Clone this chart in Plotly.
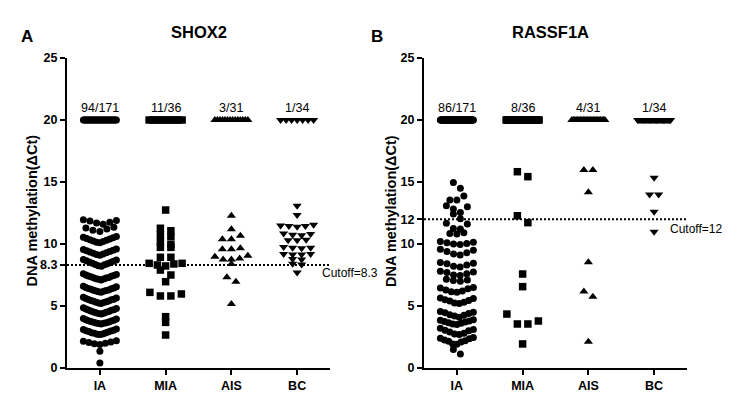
import plotly.graph_objects as go

W, H = 744, 415

groups = ["IA", "MIA", "AIS", "BC"]

# ---------------- SHOX2 (panel A) ----------------
shox2_IA = [
    11.95, 11.9, 11.85, 11.75, 11.7, 11.6,
    11.35, 11.3, 11.2, 11.1, 11.0,
    10.6, 10.55, 10.5, 10.45, 10.4, 10.35, 10.3, 10.25, 10.2, 10.15, 10.1,
    9.6, 9.55, 9.5, 9.45, 9.4, 9.35, 9.3, 9.25, 9.2, 9.15, 9.1,
    8.75, 8.7, 8.65, 8.6, 8.55, 8.5, 8.45, 8.4, 8.35, 8.32, 8.25, 8.2,
    7.6, 7.55, 7.5, 7.45, 7.42, 7.4, 7.35, 7.3, 7.28, 7.25, 7.2, 7.18, 7.15, 7.1,
    6.6, 6.55, 6.5, 6.45, 6.42, 6.4, 6.35, 6.3, 6.28, 6.25, 6.2, 6.18, 6.15, 6.1,
    5.7, 5.65, 5.6, 5.55, 5.52, 5.5, 5.45, 5.4, 5.38, 5.35, 5.3, 5.28, 5.25, 5.2,
    4.85, 4.8, 4.75, 4.7, 4.68, 4.65, 4.6, 4.55, 4.52, 4.5, 4.45, 4.42, 4.4, 4.35,
    4.0, 3.95, 3.9, 3.85, 3.82, 3.8, 3.75, 3.7, 3.68, 3.65, 3.62, 3.6, 3.58, 3.55,
    3.15, 3.1, 3.05, 3.0, 2.98, 2.95, 2.9, 2.85, 2.82, 2.8, 2.75, 2.72, 2.7,
    2.2, 2.15, 2.1, 2.05, 2.0, 1.95, 1.9,
    1.35, 0.4,
]
shox2_MIA = [12.74, 11.27, 11.07, 10.73, 10.59, 10.19, 9.97, 9.73, 9.73,
             8.93, 8.93, 8.44, 8.31, 8.44, 8.23, 8.39, 7.90, 7.50, 6.96,
             5.97, 5.81, 5.81, 6.10, 4.14, 3.68, 2.66]
shox2_AIS = [12.28, 11.18, 10.38, 10.38, 10.67, 9.57, 9.57, 9.65, 9.06,
             8.76, 8.84, 8.76, 8.98, 8.39, 7.31, 6.96, 5.16]
shox2_BC = [13.09, 12.34, 11.55, 11.5, 11.45, 11.45, 11.4, 10.85, 10.8, 10.75,
            10.7, 10.35, 10.3, 10.3, 9.75, 9.7, 9.7, 9.65, 9.2, 9.2, 9.15, 9.15,
            8.8, 8.75, 8.4, 8.35, 7.71]
shox2_at20 = [34, 10, 14, 7]          # samples plotted at ΔCt = 20 (undetected)
shox2_labels = ["94/171", "11/36", "3/31", "1/34"]
shox2_cutoff = 8.3

# ---------------- RASSF1A (panel B) ----------------
rassf_IA = [
    14.95, 14.49, 13.87, 13.55, 13.55, 13.09, 13.0, 12.82, 12.55, 12.42, 12.04,
    11.67, 11.62, 11.25, 11.2,
    10.9, 10.85, 10.8,
    10.2, 10.15, 10.1, 10.05, 10.0, 9.95,
    9.57, 9.5, 9.4, 9.3, 9.2, 9.11,
    8.5, 8.45, 8.4, 8.3, 8.2, 8.15,
    7.8, 7.75, 7.7, 7.6, 7.5, 7.45,
    7.15, 7.1, 7.05, 7.0,
    6.5, 6.45, 6.4, 6.3, 6.2, 6.15, 6.1,
    5.65, 5.6, 5.5, 5.45, 5.4, 5.3, 5.25, 5.2,
    4.55, 4.5, 4.45, 4.4, 4.3, 4.25, 4.2, 4.1,
    3.9, 3.85, 3.8, 3.75, 3.7, 3.65, 3.6, 3.55, 3.5,
    3.2, 3.1, 3.05, 3.0, 2.9, 2.8, 2.75, 2.7,
    2.45, 2.4, 2.35, 2.25, 2.2, 2.15, 2.1,
    1.94, 1.91, 1.5,
    1.13,
]
rassf_MIA = [15.83, 15.43, 12.28, 11.72, 7.58, 6.56, 4.35, 3.55, 3.55, 3.79, 1.94]
rassf_AIS = [15.97, 15.97, 14.17, 8.52, 6.16, 5.75, 2.12]
rassf_BC = [15.35, 14.0, 14.0, 12.61, 10.99]
rassf_at20 = [74, 25, 24, 29]
rassf_labels = ["86/171", "8/36", "4/31", "1/34"]
rassf_cutoff = 12

# ---------------- layout geometry (pixels) ----------------
PLOT_TOP, PLOT_BOTTOM = 58, 368
PANELS = [
    dict(left=67, right=330),
    dict(left=424, right=687),
]
FONT = "Liberation Sans, Arial, Helvetica, sans-serif"

symbols = ["circle", "square", "triangle-up", "triangle-down"]
msizes = [7, 7.5, 8, 8]
steps_px = [7, 10.5, 9, 9]
MAX_SPAN = 33


def swarm_offsets(values, bin_units, step_px, max_px, ppu):
    order = sorted(range(len(values)), key=lambda i: -values[i])
    rows, cur, top = [], [], None
    for i in order:
        v = values[i]
        if cur and (top - v) < bin_units:
            cur.append(i)
        else:
            if cur:
                rows.append(cur)
            cur, top = [i], v
    if cur:
        rows.append(cur)
    offs = [0.0] * len(values)
    for row in rows:
        row = sorted(row, key=lambda i: values[i])
        n = len(row)
        step = step_px if n == 1 else min(step_px, max_px / (n - 1))
        if n % 2 == 1:
            slots = [0]
            k = 1
            while len(slots) < n:
                slots += [-k, k]
                k += 1
        else:
            slots = []
            k = 0.5
            while len(slots) < n:
                slots += [k, -k]
                k += 1
        for i, s in zip(row, slots[:n]):
            offs[i] = s * step / ppu
    return offs


fig = go.Figure()

panel_data = [
    dict(vals=[shox2_IA, shox2_MIA, shox2_AIS, shox2_BC], at20=shox2_at20,
         labels=shox2_labels, cutoff=shox2_cutoff, bins=[0.56, 0.45, 0.45, 0.35],
         ticks=[0, 5, 8.3, 10, 15, 20, 25], ticktext=["0", "5", "8.3", "10", "15", "20", "25"]),
    dict(vals=[rassf_IA, rassf_MIA, rassf_AIS, rassf_BC], at20=rassf_at20,
         labels=rassf_labels, cutoff=rassf_cutoff, bins=[0.56, 0.9, 0.45, 0.45],
         ticks=[0, 5, 10, 12, 15, 20, 25], ticktext=["0", "5", "10", "12", "15", "20", "25"]),
]

for p, (geo, pdata) in enumerate(zip(PANELS, panel_data)):
    xa = "x" if p == 0 else "x2"
    ya = "y" if p == 0 else "y2"
    ppu = (geo["right"] - geo["left"]) / 4.0
    for g in range(4):
        below = pdata["vals"][g]
        top_vals = [20.0] * pdata["at20"][g]
        o1 = swarm_offsets(below, pdata["bins"][g], steps_px[g], MAX_SPAN, ppu)
        o2 = swarm_offsets(top_vals, 0.1, steps_px[g], MAX_SPAN, ppu)
        xs = [g + o for o in o1] + [g + o for o in o2]
        ys = list(below) + top_vals
        fig.add_trace(go.Scatter(
            x=xs, y=ys, mode="markers", xaxis=xa, yaxis=ya,
            marker=dict(symbol=symbols[g], size=msizes[g], color="black",
                        line=dict(width=0)),
            showlegend=False, hoverinfo="skip", cliponaxis=False,
        ))
        fig.add_annotation(
            x=g, y=20, xref=xa, yref=ya, text=pdata["labels"][g],
            showarrow=False, yanchor="bottom", yshift=3,
            font=dict(family=FONT, size=12.5, color="black"),
        )
    fig.add_shape(type="line", xref=xa, yref=ya, x0=-0.5, x1=3.5,
                  y0=pdata["cutoff"], y1=pdata["cutoff"], layer="below",
                  line=dict(color="black", width=2, dash="2px,2px"))

axis_common = dict(showline=True, linewidth=2, linecolor="black", ticks="outside",
                   ticklen=5, tickwidth=2, tickcolor="black", showgrid=False,
                   zeroline=False, tickfont=dict(family=FONT, size=12.5, color="black", weight="bold"))

ydom = [(H - PLOT_BOTTOM) / H, (H - PLOT_TOP) / H]
for p, geo in enumerate(PANELS):
    dom = [geo["left"] / W, geo["right"] / W]
    xkey = "xaxis" if p == 0 else "xaxis2"
    ykey = "yaxis" if p == 0 else "yaxis2"
    fig.update_layout(**{
        xkey: dict(domain=dom, range=[-0.5, 3.5], anchor="y" if p == 0 else "y2",
                   tickvals=[0, 1, 2, 3], ticktext=groups, automargin=False, **axis_common),
        ykey: dict(domain=ydom, range=[0, 25], anchor="x" if p == 0 else "x2",
                   tickvals=panel_data[p]["ticks"], ticktext=panel_data[p]["ticktext"],
                   automargin=False, **axis_common),
    })


def ann(text, xpx, ypx, size, bold=True, angle=0, xanchor="center"):
    fig.add_annotation(
        x=xpx / W, y=(H - ypx) / H, xref="paper", yref="paper",
        text=f"<b>{text}</b>" if bold else text, showarrow=False,
        textangle=angle, xanchor=xanchor, yanchor="middle",
        font=dict(family=FONT, size=size, color="black"),
    )


ann("A", 27, 36, 17)
ann("B", 377, 37, 17)
ann("SHOX2", 199, 32, 16.5)
ann("RASSF1A", 550, 32, 16.5)
ann("DNA methylation(ΔCt)", 31.5, 211, 14.5, angle=-90)
ann("DNA methylation(ΔCt)", 391, 211, 14.5, angle=-90)
ann("Cutoff=8.3", 320, 273, 12, bold=False, xanchor="left")
ann("Cutoff=12", 668, 229, 12, bold=False, xanchor="left")

fig.update_layout(
    width=W, height=H, margin=dict(l=0, r=0, t=0, b=0),
    paper_bgcolor="white", plot_bgcolor="white",
    font=dict(family=FONT, color="black"),
)

fig.write_html(
    "out.html",
    config={"displayModeBar": False, "staticPlot": True},
    post_script="document.body.style.margin='0px';document.body.style.overflow='hidden';",
)
